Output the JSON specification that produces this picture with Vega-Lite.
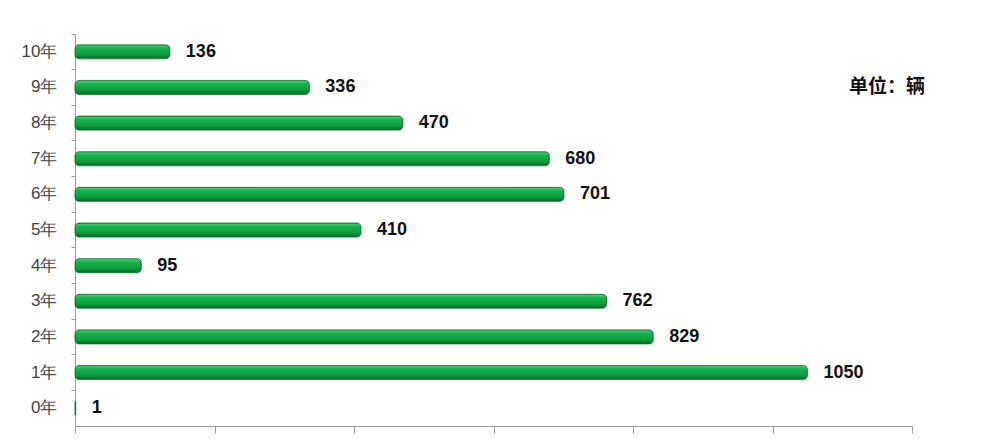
{
  "$schema": "https://vega.github.io/schema/vega-lite/v6.json",
  "autosize": {"type": "none"},
  "width": 837,
  "height": 392,
  "padding": {"left": 75, "top": 34, "right": 88, "bottom": 13},
  "background": "white",
  "config": {"view": {"stroke": null}},
  "layer": [
    {
      "data": {"values": [
        {"year": "0年", "count": 1},
        {"year": "1年", "count": 1050},
        {"year": "2年", "count": 829},
        {"year": "3年", "count": 762},
        {"year": "4年", "count": 95},
        {"year": "5年", "count": 410},
        {"year": "6年", "count": 701},
        {"year": "7年", "count": 680},
        {"year": "8年", "count": 470},
        {"year": "9年", "count": 336},
        {"year": "10年", "count": 136}
      ]},
      "encoding": {
        "y": {
          "field": "year", "type": "nominal",
          "scale": {"domain": ["10年", "9年", "8年", "7年", "6年", "5年", "4年", "3年", "2年", "1年", "0年"], "paddingInner": 0, "paddingOuter": 0},
          "axis": {
            "title": null, "labelFont": "Liberation Sans", "labelFontSize": 17,
            "labelColor": "#444444", "labelPadding": 14, "domainColor": "#9a9a9a",
            "tickColor": "#9a9a9a", "tickSize": 4, "bandPosition": 0, "grid": false
          }
        },
        "x": {
          "field": "count", "type": "quantitative",
          "scale": {"domain": [0, 1200], "nice": false},
          "axis": {
            "title": null, "labels": false, "values": [0, 200, 400, 600, 800, 1000, 1200],
            "domainColor": "#9a9a9a", "tickColor": "#9a9a9a", "tickSize": 7, "grid": false
          }
        }
      },
      "layer": [
        {
          "mark": {
            "type": "bar", "size": 14, "cornerRadius": 4,
            "stroke": "#0a6e2a", "strokeWidth": 0.8,
            "color": {
              "x1": 0, "y1": 0, "x2": 0, "y2": 1, "gradient": "linear",
              "stops": [
                {"offset": 0, "color": "#48d47a"},
                {"offset": 0.25, "color": "#16b34c"},
                {"offset": 0.7, "color": "#0f9a3e"},
                {"offset": 1, "color": "#086428"}
              ]
            }
          }
        },
        {
          "mark": {"type": "text", "align": "left", "dx": 16, "font": "Liberation Sans", "fontWeight": "bold", "fontSize": 18, "color": "#111111"},
          "encoding": {"text": {"field": "count", "type": "quantitative"}}
        }
      ]
    },
    {
      "data": {"values": [{"label": "单位：辆", "xpos": 1164, "row": "9年"}]},
      "mark": {"type": "text", "font": "Noto Sans CJK SC", "fontWeight": "bold", "fontSize": 19, "color": "#111111"},
      "encoding": {
        "x": {"field": "xpos", "type": "quantitative"},
        "y": {"field": "row", "type": "nominal"},
        "text": {"field": "label"}
      }
    }
  ]
}
